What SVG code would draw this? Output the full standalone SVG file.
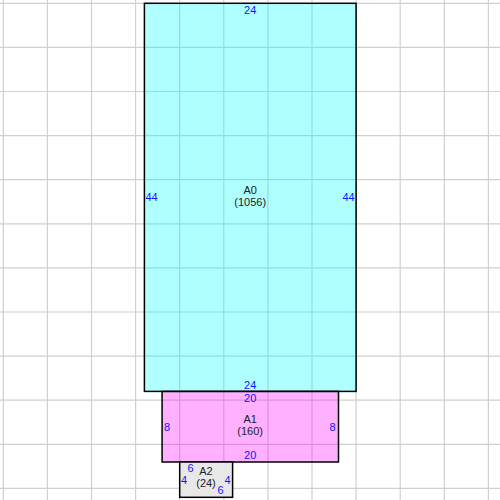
<svg xmlns="http://www.w3.org/2000/svg" width="500" height="500" viewBox="0 0 500 500">
<style>
.grid line{stroke:#d0d0d0;stroke-width:1.2}
.box{stroke:#000;stroke-width:1.5}
.t{font-family:"Liberation Sans",Arial,sans-serif;font-size:11px;text-anchor:middle;fill:#222}
.n{font-family:"Liberation Sans",Arial,sans-serif;font-size:11px;text-anchor:middle;fill:#1414ff}
</style>
<rect x="0" y="0" width="500" height="500" fill="#fff"/>
<g class="grid">
<line x1="3.3" y1="0" x2="3.3" y2="500"/>
<line x1="47.4" y1="0" x2="47.4" y2="500"/>
<line x1="91.5" y1="0" x2="91.5" y2="500"/>
<line x1="135.6" y1="0" x2="135.6" y2="500"/>
<line x1="179.7" y1="0" x2="179.7" y2="500"/>
<line x1="223.8" y1="0" x2="223.8" y2="500"/>
<line x1="267.9" y1="0" x2="267.9" y2="500"/>
<line x1="312" y1="0" x2="312" y2="500"/>
<line x1="356.1" y1="0" x2="356.1" y2="500"/>
<line x1="400.2" y1="0" x2="400.2" y2="500"/>
<line x1="444.3" y1="0" x2="444.3" y2="500"/>
<line x1="488.4" y1="0" x2="488.4" y2="500"/>
<line x1="0" y1="3.3" x2="500" y2="3.3"/>
<line x1="0" y1="47.4" x2="500" y2="47.4"/>
<line x1="0" y1="91.5" x2="500" y2="91.5"/>
<line x1="0" y1="135.6" x2="500" y2="135.6"/>
<line x1="0" y1="179.7" x2="500" y2="179.7"/>
<line x1="0" y1="223.8" x2="500" y2="223.8"/>
<line x1="0" y1="267.9" x2="500" y2="267.9"/>
<line x1="0" y1="312" x2="500" y2="312"/>
<line x1="0" y1="356.1" x2="500" y2="356.1"/>
<line x1="0" y1="400.2" x2="500" y2="400.2"/>
<line x1="0" y1="444.3" x2="500" y2="444.3"/>
<line x1="0" y1="488.4" x2="500" y2="488.4"/>
</g>
<g id="A0">
<rect class="box" x="144.4" y="3.3" width="211.7" height="388.1" fill="#00ffff" fill-opacity="0.31"/>
<text class="t" x="250.2" y="194">A0</text>
<text class="t" x="250.2" y="206">(1056)</text>
<text class="n" x="250.2" y="14">24</text>
<text class="n" x="250.2" y="389">24</text>
<text class="n" x="151.5" y="201">44</text>
<text class="n" x="348.5" y="201">44</text>
</g>
<g id="A1">
<rect class="box" x="162.1" y="391.4" width="176.4" height="70.6" fill="#ff00ff" fill-opacity="0.31"/>
<text class="t" x="250.2" y="423">A1</text>
<text class="t" x="250.2" y="435">(160)</text>
<text class="n" x="250.2" y="402">20</text>
<text class="n" x="250.2" y="459">20</text>
<text class="n" x="167" y="431">8</text>
<text class="n" x="332.5" y="431">8</text>
</g>
<g id="A2">
<rect class="box" x="179.7" y="462" width="52.9" height="35.3" fill="#e8e8e8"/>
<text class="t" x="206" y="475">A2</text>
<text class="t" x="206" y="487">(24)</text>
<text class="n" x="190.5" y="472">6</text>
<text class="n" x="220.5" y="494">6</text>
<text class="n" x="184" y="484">4</text>
<text class="n" x="227.5" y="484">4</text>
</g>
<g id="connectors"/>
</svg>
